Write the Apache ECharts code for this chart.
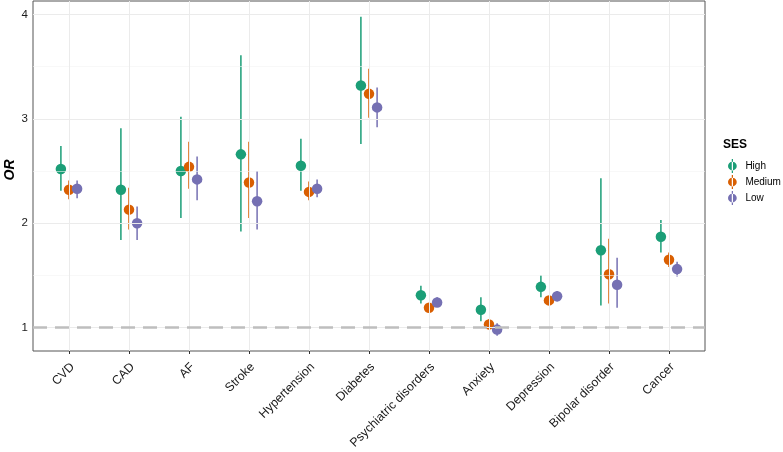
<!DOCTYPE html>
<html>
<head>
<meta charset="utf-8">
<script src="https://cdn.jsdelivr.net/npm/echarts@6/dist/echarts.min.js"></script>
<style>html,body{margin:0;padding:0;background:#fff}#c{width:783px;height:452px}</style>
</head>
<body>
<div id="c"></div>
<script>
const categories = ["CVD","CAD","AF","Stroke","Hypertension","Diabetes","Psychiatric disorders","Anxiety","Depression","Bipolar disorder","Cancer"];
const groups = ["High","Medium","Low"];
const colors = ["#1B9E77","#D95F02","#7570B3"];
const dodge = [-0.135, 0, 0.135];

const orHigh   = [2.52, 2.32, 2.50, 2.66, 2.55, 3.32, 1.31, 1.17, 1.39, 1.74, 1.87];
const loHigh   = [2.31, 1.84, 2.05, 1.92, 2.31, 2.76, 1.23, 1.06, 1.29, 1.21, 1.72];
const hiHigh   = [2.74, 2.91, 3.02, 3.61, 2.81, 3.98, 1.40, 1.29, 1.50, 2.43, 2.03];

const orMedium = [2.32, 2.13, 2.54, 2.39, 2.30, 3.24, 1.19, 1.03, 1.26, 1.51, 1.65];
const loMedium = [2.23, 1.94, 2.33, 2.05, 2.22, 3.01, 1.17, 0.99, 1.22, 1.23, 1.58];
const hiMedium = [2.41, 2.34, 2.78, 2.78, 2.40, 3.48, 1.21, 1.08, 1.30, 1.85, 1.72];

const orLow    = [2.33, 2.00, 2.42, 2.21, 2.33, 3.11, 1.24, 0.98, 1.30, 1.41, 1.56];
const loLow    = [2.24, 1.84, 2.22, 1.94, 2.25, 2.92, 1.20, 0.92, 1.25, 1.19, 1.49];
const hiLow    = [2.41, 2.16, 2.64, 2.50, 2.42, 3.30, 1.29, 1.04, 1.35, 1.67, 1.63];

const yTicks = [1, 2, 3, 4];
const yMinor = [1.5, 2.5, 3.5];
const refLine = 1;

const est = [orHigh, orMedium, orLow];
const lows = [loHigh, loMedium, loLow];
const highs = [hiHigh, hiMedium, hiLow];
const xIdx = categories.map((c, i) => i);
const labelPos = xIdx.map(i => i + 0.06);

const series = [];
const gridData = [];
yTicks.forEach(v => gridData.push({yAxis: v, lineStyle: {color: '#EBEBEB', width: 1, type: 'solid'}}));
yMinor.forEach(v => gridData.push({yAxis: v, lineStyle: {color: '#F4F4F4', width: 0.6, type: 'solid'}}));
xIdx.forEach(v => gridData.push({xAxis: v, lineStyle: {color: '#EBEBEB', width: 1, type: 'solid'}}));
series.push({
  type: 'line', data: [], silent: true, z: 1,
  markLine: {silent: true, symbol: 'none', label: {show: false}, animation: false, data: gridData}
});
series.push({
  type: 'line', data: [], silent: true, z: 2,
  markLine: {silent: true, symbol: 'none', label: {show: false}, animation: false,
    data: [{yAxis: refLine, lineStyle: {color: '#BEBEBE', width: 2.6, type: [14, 8]}}]}
});

groups.forEach((g, k) => {
  const d = xIdx.map(i => [i + dodge[k], lows[k][i], highs[k][i]]);
  series.push({
    name: g, type: 'custom', z: 3, silent: true,
    itemStyle: {color: colors[k]},
    data: d,
    encode: {x: 0, y: [1, 2]},
    renderItem: function (params, api) {
      const p1 = api.coord([api.value(0), api.value(1)]);
      const p2 = api.coord([api.value(0), api.value(2)]);
      return {type: 'line', shape: {x1: p1[0], y1: p1[1], x2: p2[0], y2: p2[1]},
        style: {stroke: colors[k], lineWidth: 1.5, opacity: 1}};
    }
  });
  series.push({
    name: g, type: 'scatter', z: 4,
    symbol: 'circle', symbolSize: 10.5,
    itemStyle: {color: colors[k], opacity: 1},
    data: xIdx.map(i => [i + dodge[k], est[k][i]])
  });
});

const chart = echarts.init(document.getElementById('c'), null, {renderer: 'canvas'});
chart.setOption({
  animation: false,
  backgroundColor: '#fff',
  title: {text: 'SES', left: 723, top: 139, padding: 0, textStyle: {fontSize: 12, fontWeight: 'bold', color: '#000', fontFamily: 'Liberation Sans'}},
  graphic: [{
    type: 'text', x: 10, y: 170, rotation: Math.PI / 2,
    style: {text: 'OR', fill: '#000', font: 'italic bold 14px "Liberation Sans"', align: 'center', verticalAlign: 'middle'}
  }],
  legend: {
    data: groups, orient: 'vertical', left: 728, top: 159, padding: 0,
    itemWidth: 16, itemHeight: 14, itemGap: 2,
    icon: 'path://M4.3,0 L5.7,0 L5.7,16 L4.3,16 Z M0,8 A5,5 0 1,0 10,8 A5,5 0 1,0 0,8 Z',
    textStyle: {fontSize: 10, color: '#000', fontFamily: 'Liberation Sans'},
    selectedMode: false
  },
  grid: {left: 33, right: 78, top: 1, bottom: 101, show: true, borderColor: '#555', borderWidth: 1, containLabel: false, outerBoundsMode: 'none'},
  xAxis: {
    type: 'value', min: -0.6, max: 10.6,
    axisLine: {show: false},
    splitLine: {show: false},
    axisTick: {show: true, customValues: xIdx, length: 3, lineStyle: {color: '#333'}},
    axisLabel: {
      customValues: labelPos, rotate: 45, margin: 14,
      fontSize: 12.3, color: '#1a1a1a', fontFamily: 'Liberation Sans',
      formatter: v => categories[Math.round(v)]
    }
  },
  yAxis: {
    type: 'value', min: 0.775, max: 4.13,
    axisLine: {show: false},
    splitLine: {show: false},
    axisTick: {show: true, customValues: yTicks, length: 3, lineStyle: {color: '#333'}},
    axisLabel: {customValues: yTicks, margin: 5, fontSize: 11.5, color: '#1a1a1a', fontFamily: 'Liberation Sans'}
  },
  series: series
});
</script>
</body>
</html>
